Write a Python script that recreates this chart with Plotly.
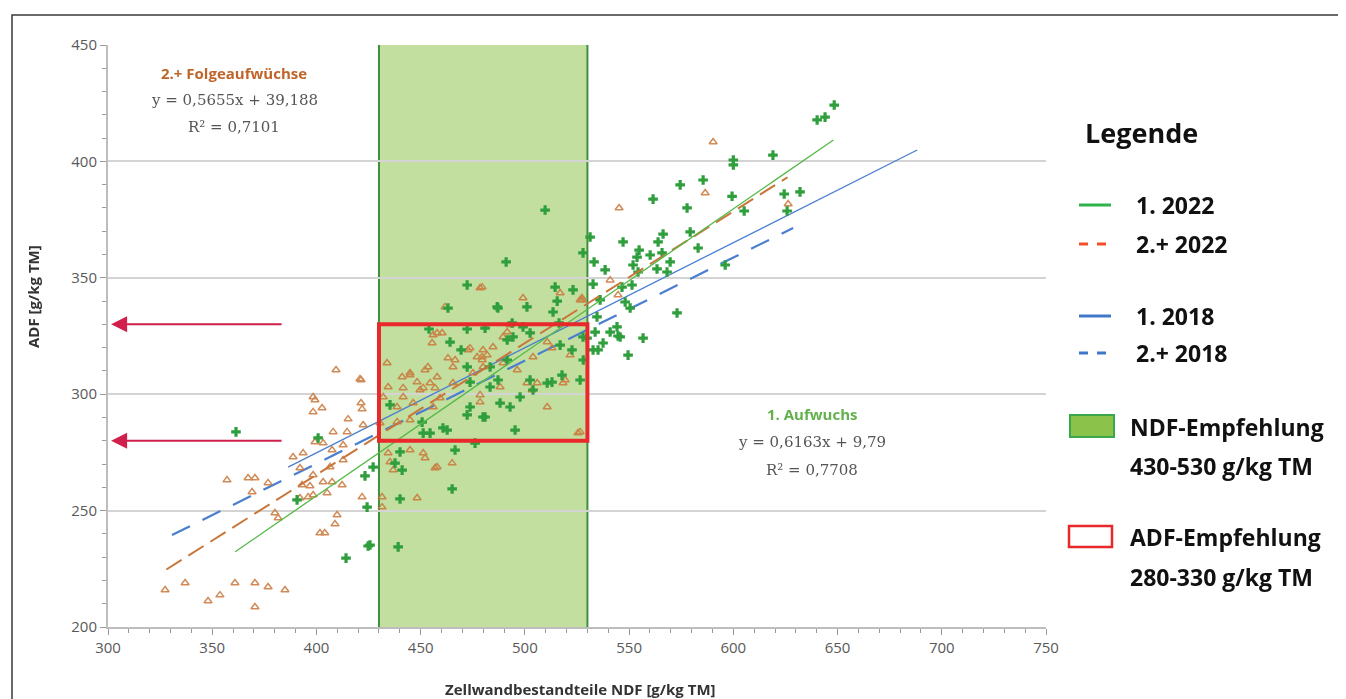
import plotly.graph_objects as go

# ---------------- data ----------------
green_x = [648.4, 640.2, 644, 619, 600, 600, 585.5, 574.5, 561.5, 577.8, 599.4, 605.2, 624.4, 632, 625.8,
           579.3, 566.3, 563.9, 547.1, 583.1, 554.8, 560.1, 565.8, 569.7, 553.8, 551.9, 554.3, 563.4, 568.2,
           596.1, 533.2, 538.5, 531.3, 527.9, 532.7, 546.6, 551.4, 536.1, 548.1, 550.5, 573, 534.6, 544.2,
           540.9, 533.7, 545.7, 556.7, 537.5, 535.1, 549.5, 529.8, 544.7, 509.7, 472.3, 463.1, 454, 464.1,
           472.3, 469.4, 473.7, 514.5, 523.1, 515.5, 501, 513.5, 486.7, 480.9, 493.9, 499.1, 494.3, 502.5,
           516.4, 516.9, 522.6, 532.7, 527.9, 491.5, 483.3, 487.1, 502.5, 517.8, 510.7, 526.5, 503.9, 491,
           487.1, 528, 473.7, 480.9, 488.1, 492.9, 495.3, 460.7, 472.3, 466.5, 465.1, 451.2, 491.5, 513,
           483.3, 472.3, 497.7, 435.3, 462.7, 454.5, 479.9, 440.1, 437.7, 441.1, 476.1, 440.1, 427.2, 439.2,
           425.7, 361.4, 400.8, 423.3, 390.7, 424.3, 424.8, 414.2, 450.7]
green_y = [424.2, 417.8, 419, 402.7, 400.6, 398.5, 392, 389.9, 383.8, 380, 385, 378.7, 386, 386.9, 378.7,
           369.7, 368.8, 365.4, 365.4, 362.8, 361.9, 359.8, 360.7, 356.8, 358.9, 355.5, 352.5, 353.8, 352.5,
           355.5, 356.8, 353.4, 367.5, 360.7, 347.3, 346, 346.9, 340.5, 339.6, 337, 334.9, 333.2, 328.9,
           326.7, 326.7, 324.6, 324.1, 322, 319, 316.8, 324.1, 325, 379.1, 346.9, 337, 328, 322.4,
           328, 319, 305.2, 346, 344.8, 340, 337.5, 335.3, 337.5, 328.4, 330.6, 328.9, 324.6, 326.3,
           330.6, 321.1, 319, 319, 324.6, 314.7, 311.7, 306.1, 306.1, 308.2, 304.8, 306.1, 301.8, 356.8,
           337, 314.7, 294.5, 290.2, 296.2, 294.5, 284.6, 285.5, 291.1, 276, 259.3, 283.3, 323.3, 305.2,
           303.1, 311.7, 298.8, 295.4, 284.6, 283.3, 290.2, 275.2, 270.4, 267.4, 279, 255, 268.7, 234.4,
           235.2, 283.8, 281.2, 264.9, 254.6, 251.5, 234.8, 229.6, 288]

orange_x = [409.4, 421.4, 399.3, 398.4, 402.7, 421.4, 421.9, 415.2, 408, 414.7, 422.4, 399.3, 403.2, 412.8,
            407.5, 388.8, 393.6, 412.8, 406.5, 392.1, 398.4, 403.2, 407.5, 412.3, 393.1, 396.9, 398.4, 405.1,
            357.1, 367.2, 370.5, 369.1, 376.8, 380.1, 381.6, 392.1, 396, 421.9, 409.9, 408.9, 401.7, 404,
            327.4, 337, 348, 353.7, 360.9, 370.5, 370.5, 376.8, 384.9, 398.4, 420.9, 478.5, 461.7, 460.3,
            456, 455.5, 473.7, 477.1, 466.5, 463.1, 433.9, 453.5, 452.1, 465.5, 444.9, 441.1, 448.3, 457.9,
            465.5, 475.1, 434.4, 441.6, 451.2, 456.9, 432, 478.5, 499.1, 516.9, 526.5, 479.5, 492.9, 491.5,
            489.5, 479.9, 481.9, 479.5, 484.7, 489.5, 510.7, 513, 521.7, 496.3, 505.9, 519.3, 503.5, 479.9,
            527.4, 457.9, 472.7, 479.5, 444.9, 454.5, 449.7, 459.3, 441.6, 446.4, 456, 444.9, 478.5, 488.1,
            501, 503.9, 510.7, 518.3, 526.5, 444.9, 451.2, 452.1, 457.9, 456.9, 465.1, 434.4, 435.3, 436.8,
            431.5, 448.3, 431.5, 430.5, 438.7, 438.7, 590.3, 586.5, 545.2, 626.3, 527.4, 540.9, 544.7, 525.5]
orange_y = [310.4, 306.1, 297.5, 292.4, 294.1, 296.2, 293.6, 289.3, 283.8, 283.8, 286.8, 279.5, 279, 278.2,
            276, 273, 274.7, 271.7, 268.7, 268.3, 265.3, 262.3, 262.3, 261, 261, 260.6, 256.7, 257.6,
            263.1, 264, 264, 258, 261.9, 249, 246.8, 255.4, 255.8, 255.8, 248.1, 244.2, 240.4, 240.4,
            215.9, 218.9, 211.2, 213.7, 218.9, 218.9, 208.6, 217.2, 215.9, 298.8, 306.5, 345.6, 337.5, 326.3,
            325.4, 322, 319.8, 316, 314.7, 315.5, 313.4, 311.7, 310.4, 311.7, 309.1, 307.4, 305.2, 307.4,
            304.8, 309.1, 303.1, 302.7, 302.7, 302.7, 298.8, 299.7, 341.3, 343.5, 340.5, 346, 329.7, 326.7,
            324.6, 319, 316.8, 314.7, 320.3, 313.4, 322.4, 319.8, 316.8, 310.4, 304.8, 306.1, 301.8, 311.7,
            341.3, 326.3, 319, 316, 308.2, 304.8, 301.8, 298.4, 298.8, 296.2, 294.5, 288.9, 296.6, 303.1,
            304.8, 316, 294.5, 304.8, 283.8, 276, 274.7, 272.6, 268.7, 268.3, 270.4, 274.7, 270.9, 267.4,
            255.8, 255.4, 251.5, 287.6, 288.1, 294.5, 408.3, 386.4, 380, 381.7, 340.5, 349, 342.6, 283.3]

# trend lines (end points)
line_1_2022_x = [361, 648]
line_1_2022_y = [232.3, 409.2]
line_2_2022_x = [328, 626]
line_2_2022_y = [224.7, 393.2]
line_1_2018_x = [386.4, 688.2]
line_1_2018_y = [268.7, 404.9]
line_2_2018_x = [330.7, 628.7]
line_2_2018_y = [239.5, 371.4]

ndf_range = [430, 530]
adf_range = [280, 330]
arrow_levels = [330, 280]

x_ticks = [300, 350, 400, 450, 500, 550, 600, 650, 700, 750]
y_ticks = [200, 250, 300, 350, 400, 450]

legend_labels = ["1. 2022", "2.+ 2022", "1. 2018", "2.+ 2018"]

# ---------------- styles ----------------
GREEN = "#2f9e3c"
ORANGE = "#c9763a"
BLUE = "#4a7fd0"
RED = "#e8282b"
ARROW = "#d11f4b"
BAND = "#c3df9f"
BAND_EDGE = "#3f8f3f"

# page offset (body margin) in the browser
OFF = 8
# plot area as seen on screen: x 108..1046, y 45..627
PL, PR, PT, PB = 108, 1046, 45, 627
def px(x):
    return (x - PL) / (PR - PL)
def py(y):
    return (PB - y) / (PB - PT)

fig = go.Figure()

fig.add_trace(go.Scatter(x=line_1_2018_x, y=line_1_2018_y, mode="lines",
                         line=dict(color=BLUE, width=1.3), showlegend=False, hoverinfo="skip"))
fig.add_trace(go.Scatter(x=line_2_2018_x, y=line_2_2018_y, mode="lines",
                         line=dict(color=BLUE, width=2.2, dash="20px,14px"), showlegend=False, hoverinfo="skip"))

fig.add_trace(go.Scatter(x=orange_x, y=orange_y, mode="markers", name="2.+ Folgeaufwüchse",
                         marker=dict(symbol="triangle-up-open", size=7, color=ORANGE,
                                     line=dict(width=1.5, color=ORANGE)),
                         opacity=0.85, showlegend=False))
fig.add_trace(go.Scatter(x=green_x, y=green_y, mode="markers", name="1. Aufwuchs",
                         marker=dict(symbol="cross", size=8, color=GREEN, line=dict(width=0)),
                         showlegend=False))

fig.add_trace(go.Scatter(x=line_2_2022_x, y=line_2_2022_y, mode="lines",
                         line=dict(color=ORANGE, width=2, dash="18px,8px"), showlegend=False, hoverinfo="skip"))
fig.add_trace(go.Scatter(x=line_1_2022_x, y=line_1_2022_y, mode="lines",
                         line=dict(color="#55b948", width=1.3), showlegend=False, hoverinfo="skip"))

shapes = []
shapes.append(dict(type="rect", xref="x", yref="y", x0=ndf_range[0], x1=ndf_range[1], y0=200, y1=450,
                   fillcolor=BAND, line=dict(width=0), layer="below"))
for xv in ndf_range:
    shapes.append(dict(type="line", xref="x", yref="y", x0=xv, x1=xv, y0=200, y1=450,
                       line=dict(color=BAND_EDGE, width=2), layer="below"))
shapes.append(dict(type="rect", xref="x", yref="y", x0=ndf_range[0], x1=ndf_range[1],
                   y0=adf_range[0], y1=adf_range[1], line=dict(color=RED, width=4), layer="above"))
shapes.append(dict(type="rect", xref="paper", yref="paper", x0=px(12), x1=px(1400), y0=py(15), y1=py(760),
                   line=dict(color="#3a3a3a", width=1.5), layer="above"))

leg_font = dict(family="Open Sans", size=23, color="#111111")
legend_rows = [
    (legend_labels[0], 205, "#2fb34a", "solid"),
    (legend_labels[1], 244, "#f0502a", "dash"),
    (legend_labels[2], 316, "#3f78c8", "solid"),
    (legend_labels[3], 353, "#3f78c8", "dash"),
]
for label, ypx, col, dsh in legend_rows:
    shapes.append(dict(type="line", xref="paper", yref="paper", x0=px(1079), x1=px(1111), y0=py(ypx), y1=py(ypx),
                       line=dict(color=col, width=3, dash=dsh)))

shapes.append(dict(type="rect", xref="paper", yref="paper", x0=px(1070), x1=px(1114), y0=py(437), y1=py(415),
                   fillcolor="#8bc34a", line=dict(color="#3aa84a", width=2)))
shapes.append(dict(type="rect", xref="paper", yref="paper", x0=px(1069), x1=px(1112), y0=py(547), y1=py(526),
                   fillcolor="white", line=dict(color=RED, width=2.5)))

annotations = []
for label, ypx, col, dsh in legend_rows:
    annotations.append(dict(xref="paper", yref="paper", x=px(1134), y=py(ypx), text="<b>%s</b>" % label,
                            showarrow=False, xanchor="left", yanchor="middle", font=leg_font))
annotations.append(dict(xref="paper", yref="paper", x=px(1083), y=py(132), text="<b>Legende</b>",
                        showarrow=False, xanchor="left", yanchor="middle",
                        font=dict(family="Open Sans", size=27, color="#111111")))
for txt, ypx in [("NDF-Empfehlung", 427), ("430-530 g/kg TM", 466), ("ADF-Empfehlung", 537), ("280-330 g/kg TM", 577)]:
    annotations.append(dict(xref="paper", yref="paper", x=px(1128), y=py(ypx), text="<b>%s</b>" % txt,
                            showarrow=False, xanchor="left", yanchor="middle", font=leg_font))

eq_font = dict(family="DejaVu Serif", size=15, color="#555555")
annotations.append(dict(xref="paper", yref="paper", x=px(234), y=py(73), text="<b>2.+ Folgeaufwüchse</b>",
                        showarrow=False, xanchor="center", yanchor="middle",
                        font=dict(family="Open Sans", size=15, color="#c0652a")))
annotations.append(dict(xref="paper", yref="paper", x=px(234), y=py(100), text="y = 0,5655x + 39,188",
                        showarrow=False, xanchor="center", yanchor="middle", font=eq_font))
annotations.append(dict(xref="paper", yref="paper", x=px(234), y=py(127), text="R² = 0,7101",
                        showarrow=False, xanchor="center", yanchor="middle", font=eq_font))
annotations.append(dict(xref="paper", yref="paper", x=px(812), y=py(414), text="<b>1. Aufwuchs</b>",
                        showarrow=False, xanchor="center", yanchor="middle",
                        font=dict(family="Open Sans", size=15, color="#62b14c")))
annotations.append(dict(xref="paper", yref="paper", x=px(812), y=py(442), text="y = 0,6163x + 9,79",
                        showarrow=False, xanchor="center", yanchor="middle", font=eq_font))
annotations.append(dict(xref="paper", yref="paper", x=px(812), y=py(470), text="R² = 0,7708",
                        showarrow=False, xanchor="center", yanchor="middle", font=eq_font))

for lvl in arrow_levels:
    annotations.append(dict(xref="x", yref="y", axref="x", ayref="y", x=301.5, y=lvl, ax=384, ay=lvl,
                            text="", showarrow=True, arrowhead=2, arrowsize=1.6, arrowwidth=2,
                            arrowcolor=ARROW))

annotations.append(dict(xref="paper", yref="paper", x=px(580), y=py(689),
                        text="<b>Zellwandbestandteile NDF [g/kg TM]</b>", showarrow=False,
                        xanchor="center", yanchor="middle",
                        font=dict(family="Open Sans", size=15, color="#333333")))
annotations.append(dict(xref="paper", yref="paper", x=px(33), y=py(297),
                        text="<b>ADF [g/kg TM]</b>", showarrow=False, textangle=-90,
                        xanchor="center", yanchor="middle",
                        font=dict(family="Open Sans", size=15, color="#333333")))

axis_common = dict(showline=True, linecolor="#bdbdbd", linewidth=2, ticks="outside", ticklen=6,
                   tickcolor="#9a9a9a", tickwidth=1, zeroline=False,
                   tickfont=dict(family="Open Sans", size=15, color="#595959"),
                   minor=dict(ticks="outside", ticklen=4, tickcolor="#9a9a9a", dtick=10, showgrid=False))

W, H = 1346, 699
fig.update_layout(
    width=W, height=H,
    margin=dict(l=PL - OFF, r=W - PR + OFF, t=PT - OFF, b=H - PB + OFF),
    paper_bgcolor="white", plot_bgcolor="white",
    showlegend=False,
    xaxis=dict(range=[300, 750], tickvals=x_ticks, showgrid=False, **axis_common),
    yaxis=dict(range=[200, 450], tickvals=y_ticks, showgrid=True, gridcolor="#d4d4d4", gridwidth=2,
               **axis_common),
    shapes=shapes,
    annotations=annotations,
)

fig.write_html("out.html")
